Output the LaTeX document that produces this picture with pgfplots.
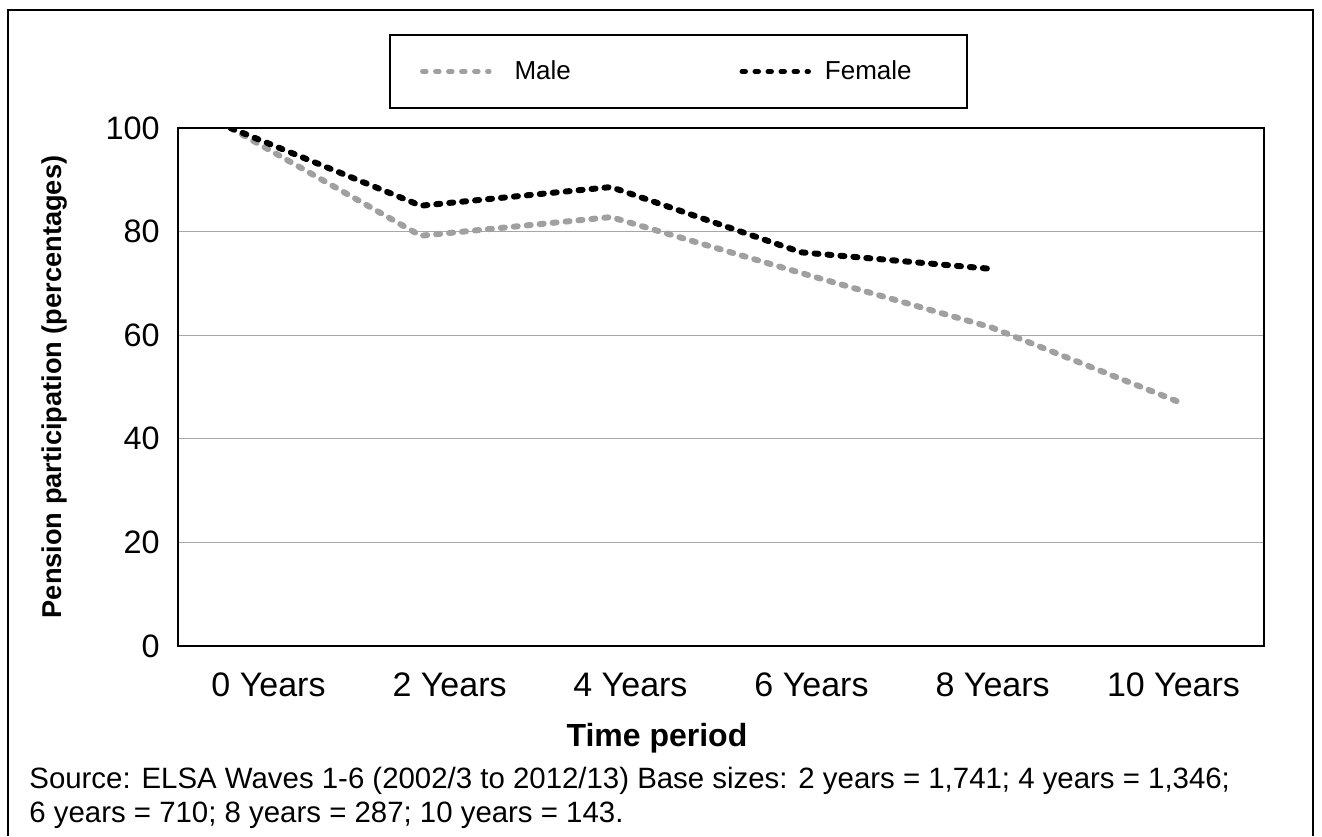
\documentclass[border=0pt]{standalone}
\usepackage{fontspec}
\setmainfont{Liberation Sans}
\usepackage{pgfplots}
\pgfplotsset{compat=1.18}

\definecolor{malegray}{RGB}{160,160,160}
\definecolor{gridgray}{RGB}{166,166,166}

\begin{document}
\begin{tikzpicture}
\useasboundingbox (0pt,0pt) rectangle (661pt,-418pt);
% outer frame
\draw[line width=1.2pt, black] (4pt,-418pt) -- (4pt,-5pt) -- (656.5pt,-5pt) -- (656.5pt,-418pt);

\begin{axis}[
  at={(89pt,-323pt)}, anchor=south west,
  scale only axis, width=543pt, height=259pt,
  xmin=-0.2766, xmax=5.433, ymin=0, ymax=100,
  xtick={0.199,1.151,2.102,3.054,4.006,4.957},
  xticklabels={0 Years,2 Years,4 Years,6 Years,8 Years,10 Years},
  ytick={0,20,40,60,80,100},
  /pgf/number format/assume math mode=true,
  major tick length=0pt,
  ymajorgrids, grid style={gridgray, line width=0.6pt},
  axis line style={black, line width=0.8pt},
  xticklabel style={font=\fontsize{17}{20}\selectfont, anchor=base, yshift=-25pt},
  yticklabel style={font=\fontsize{16.2}{19}\selectfont, anchor=east, inner sep=0pt, xshift=-9pt},
  xlabel={\textbf{Time period}},
  ylabel={\textbf{Pension participation (percentages)}},
  xlabel style={font=\fontsize{16}{19}\selectfont, at={(axis description cs:0.441,-0.1776)}, anchor=center},
  ylabel style={font=\fontsize{13.6}{16}\selectfont, at={(axis description cs:-0.1133,0.5)}, anchor=center},
  legend columns=2,
  legend style={at={(axis description cs:0.4609,1.109)}, anchor=center,
    draw=black, line width=0.8pt, inner xsep=15pt, inner ysep=12.75pt,
    font=\fontsize{13}{15}\selectfont,
    nodes={inner sep=0pt, text width=56pt, align=left},
    /tikz/column 1/.append style={column sep=11.5pt},
    /tikz/column 2/.append style={column sep=56.5pt},
    /tikz/column 3/.append style={column sep=7pt}},
  legend image code/.code={\draw[#1, line width=2.2pt] (0pt,0pt) -- (33.5pt,0pt);},
]
% Male
\addplot[malegray, line width=3pt, line cap=round, dash pattern=on 2pt off 4.5pt]
  coordinates {(0,100) (1,79.2) (2,82.8) (3,72.0) (4,61.5) (5,46.9)};
\addlegendentry{Male}
% Female
\addplot[black, line width=3pt, line cap=round, dash pattern=on 2pt off 4.5pt]
  coordinates {(0,100) (1,85.0) (2,88.6) (3,76.0) (4,72.8)};
\addlegendentry{Female}
\end{axis}

\node[anchor=base west, inner sep=0pt, font=\fontsize{14.7}{17}\selectfont] at (14.5pt,-394pt)
  {Source: ELSA Waves 1-6 (2002/3 to 2012/13) Base sizes: 2 years = 1,741; 4 years = 1,346;};
\node[anchor=base west, inner sep=0pt, font=\fontsize{14.7}{17}\selectfont] at (14.5pt,-411pt)
  {6 years = 710; 8 years = 287; 10 years = 143.};
\end{tikzpicture}
\end{document}
